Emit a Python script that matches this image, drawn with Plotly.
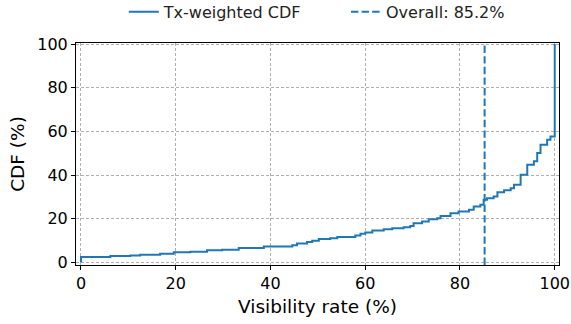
import plotly.graph_objects as go

# Step CDF (visibility rate %, cumulative %)
visibility = [0, 0, 6.2, 10.4, 12.5, 16.7, 19.6, 23.1, 26.6, 29.8, 33.3, 38.6, 44.6,
              45.6, 47.7, 48.8, 50.2, 52.6, 54.1, 57.9, 59.0, 60.0, 61.5, 63.9, 65.7,
              68.1, 69.5, 70.2, 72.0, 73.4, 75.2, 75.9, 78.0, 79.7, 81.9, 82.9, 84.3,
              85.0, 85.7, 87.1, 87.9, 89.3, 90.7, 91.4, 92.8, 94.2, 95.6, 96.3, 97.0,
              98.4, 99.1, 100, 100]
cdf = [0, 2.5, 2.9, 3.2, 3.5, 4.0, 4.6, 4.9, 5.5, 5.8, 6.6, 7.3, 7.8,
       8.7, 9.3, 9.9, 10.7, 11.0, 11.6, 12.3, 13.1, 13.7, 14.6, 15.2, 15.6,
       16.1, 16.7, 17.9, 18.7, 19.8, 20.2, 21.3, 22.5, 23.3, 24.1, 25.6, 26.4,
       28.7, 29.4, 30.2, 32.1, 33.0, 34.0, 35.6, 40.2, 44.7, 46.3, 50.1, 53.9,
       56.2, 57.7, 57.7, 100]
overall = 85.2
x_range = [-1.05, 100.9]
y_range = [-1.2, 100.5]
tick_vals = [0, 20, 40, 60, 80, 100]

blue = "#1f77b4"
font = "DejaVu Sans"

fig = go.Figure()
fig.add_trace(go.Scatter(
    x=visibility, y=cdf, mode="lines", line_shape="hv",
    line=dict(color=blue, width=2), name="Tx-weighted CDF", legend="legend"))
fig.add_trace(go.Scatter(
    x=[overall, overall], y=y_range, mode="lines",
    line=dict(color=blue, width=2, dash="7.4px,3.2px"),
    name=f"Overall: {overall}%", legend="legend2"))

axis_common = dict(
    showline=True, linecolor="black", linewidth=1, mirror=True,
    ticks="outside", ticklen=4, tickcolor="black", tickwidth=1,
    showgrid=True, gridcolor="#b0b0b0", gridwidth=0.8, griddash="3px,2px",
    zeroline=False, tickfont=dict(size=16, color="black", family=font),
    tickvals=tick_vals, automargin=False,
)
fig.update_xaxes(range=x_range, title=dict(text="Visibility rate (%)", font=dict(size=18.5, color="black", family=font), standoff=7), **axis_common)
fig.update_yaxes(range=y_range, title=dict(text="CDF (%)", font=dict(size=18.5, color="black", family=font), standoff=7), **axis_common)

legend_common = dict(orientation="h", xanchor="left", y=1.14, yanchor="middle",
                     font=dict(size=16, color="#222222", family=font),
                     bgcolor="rgba(0,0,0,0)")

fig.update_layout(
    width=571, height=324,
    margin=dict(l=76, r=12, t=43, b=59, autoexpand=False),
    plot_bgcolor="white", paper_bgcolor="white",
    font=dict(family=font, color="black"),
    showlegend=True,
    legend=dict(x=0.099, **legend_common),
    legend2=dict(x=0.559, **legend_common),
)

fig.write_html("out.html", config={"displayModeBar": False},
               post_script="document.body.style.margin='0';document.body.style.overflow='hidden';")
